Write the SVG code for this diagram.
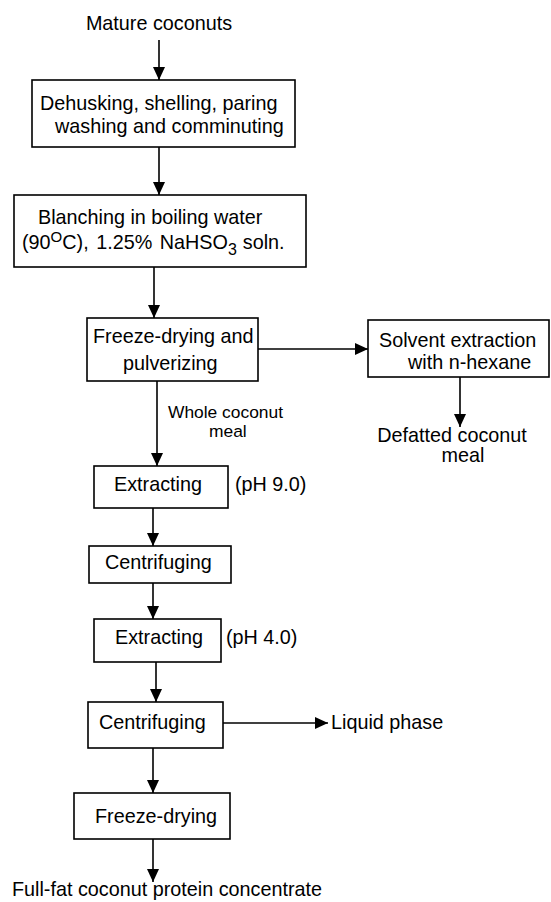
<svg xmlns="http://www.w3.org/2000/svg" width="551" height="902" viewBox="0 0 551 902">
<style>
  text { font-family: "Liberation Sans", Arial, sans-serif; font-size: 19.8px; fill: #000; }
  .small { font-size: 17.4px; }
  .box { fill: #fff; stroke: #000; stroke-width: 1.6; }
  .conn { stroke: #000; stroke-width: 1.6; fill: none; marker-end: url(#arr); }
</style>
<defs>
  <marker id="arr" markerUnits="userSpaceOnUse" markerWidth="14" markerHeight="12" refX="13" refY="6" orient="auto">
    <path d="M0,0 L13,6 L0,12 Z" fill="#000"/>
  </marker>
</defs>
<rect width="551" height="902" fill="#fff"/>

<g id="connectors">
  <line class="conn" x1="159" y1="40" x2="159" y2="80"/>
  <line class="conn" x1="159" y1="147" x2="159" y2="195"/>
  <line class="conn" x1="154" y1="267" x2="154" y2="318"/>
  <line class="conn" x1="258" y1="349" x2="368" y2="349"/>
  <line class="conn" x1="460" y1="377" x2="460" y2="427"/>
  <line class="conn" x1="157" y1="381" x2="157" y2="466"/>
  <line class="conn" x1="153" y1="508" x2="153" y2="546"/>
  <line class="conn" x1="153" y1="583" x2="153" y2="619"/>
  <line class="conn" x1="156" y1="662" x2="156" y2="702"/>
  <line class="conn" x1="223" y1="723" x2="328" y2="723"/>
  <line class="conn" x1="153" y1="748" x2="153" y2="793"/>
  <line class="conn" x1="153" y1="839" x2="153" y2="882"/>
</g>

<g id="mature">
  <text x="159" y="30" text-anchor="middle">Mature coconuts</text>
</g>

<g id="dehusking">
  <rect class="box" x="32" y="80" width="263" height="67"/>
  <text x="40" y="110">Dehusking, shelling, paring</text>
  <text x="55" y="133">washing and comminuting</text>
</g>

<g id="blanching">
  <rect class="box" x="14" y="195" width="292" height="72"/>
  <text x="38" y="224">Blanching in boiling water</text>
  <text x="22" y="249" word-spacing="2">(90<tspan dy="-7" font-size="15">O</tspan><tspan dy="7">C), 1.25% NaHSO</tspan><tspan dy="6" font-size="16">3</tspan><tspan dy="-6" dx="6">soln.</tspan></text>
</g>

<g id="freeze1">
  <rect class="box" x="87" y="318" width="171" height="63"/>
  <text x="93" y="343">Freeze-drying and</text>
  <text x="123" y="370">pulverizing</text>
</g>

<g id="solvent">
  <rect class="box" x="368" y="320" width="181" height="57"/>
  <text x="379" y="347">Solvent extraction</text>
  <text x="408" y="369">with n-hexane</text>
</g>

<g id="defatted">
  <text x="452" y="442" text-anchor="middle">Defatted coconut</text>
  <text x="463" y="462" text-anchor="middle">meal</text>
</g>

<g id="whole">
  <text class="small" x="168" y="418">Whole coconut</text>
  <text class="small" x="209" y="437">meal</text>
</g>

<g id="extract1">
  <rect class="box" x="94" y="466" width="134" height="42"/>
  <text x="114" y="491">Extracting</text>
  <text x="235" y="491">(pH 9.0)</text>
</g>

<g id="centri1">
  <rect class="box" x="89" y="546" width="142" height="37"/>
  <text x="105" y="569">Centrifuging</text>
</g>

<g id="extract2">
  <rect class="box" x="94" y="619" width="127" height="43"/>
  <text x="115" y="644">Extracting</text>
  <text x="226" y="644">(pH 4.0)</text>
</g>

<g id="centri2">
  <rect class="box" x="88" y="702" width="135" height="46"/>
  <text x="99" y="729">Centrifuging</text>
</g>

<g id="liquid">
  <text x="331" y="729">Liquid phase</text>
</g>

<g id="freeze2">
  <rect class="box" x="74" y="793" width="156" height="46"/>
  <text x="95" y="823">Freeze-drying</text>
</g>

<g id="final">
  <text x="12" y="896" font-size="19.4">Full-fat coconut protein concentrate</text>
</g>
</svg>
